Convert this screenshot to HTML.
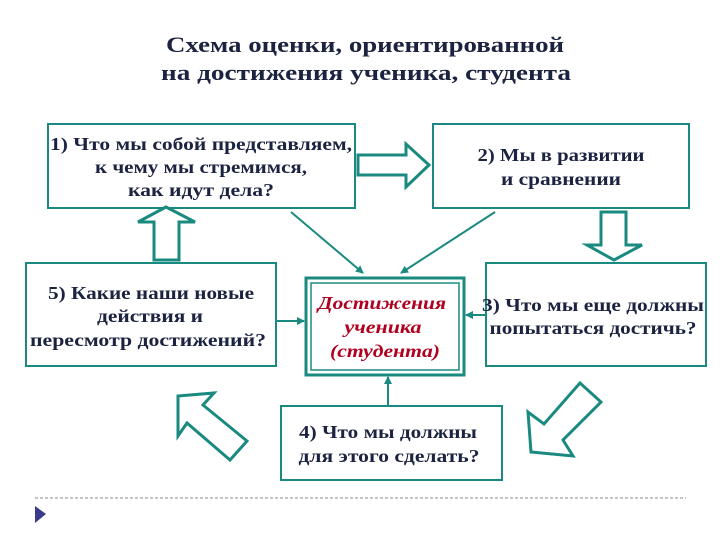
<!DOCTYPE html>
<html><head><meta charset="utf-8"><style>
html,body{margin:0;padding:0;background:#fff;}
svg{display:block;}
text{font-family:"Liberation Serif","DejaVu Serif",serif;fill:#1c2340;}
.t{font-size:22px;font-weight:bold;}
.b{font-size:18px;font-weight:bold;}
.c{font-size:18px;font-style:italic;fill:#b00020;font-weight:bold;}
</style></head><body>
<svg width="720" height="540" viewBox="0 0 720 540" xmlns="http://www.w3.org/2000/svg">
<defs>
<marker id="ah" markerWidth="8" markerHeight="8" refX="7" refY="4" orient="auto" markerUnits="userSpaceOnUse">
<path d="M0,0 L8,4 L0,8 Z" fill="#1a8a80"/></marker>
</defs>
<text class="t" x="365" y="52" text-anchor="middle" textLength="398" lengthAdjust="spacingAndGlyphs">Схема оценки, ориентированной</text>
<text class="t" x="366" y="80" text-anchor="middle" textLength="410" lengthAdjust="spacingAndGlyphs">на достижения  ученика, студента</text>

<g fill="#fff" stroke="#1a8a80" stroke-width="2">
<rect x="48" y="124" width="307" height="84"/>
<rect x="433" y="124" width="256" height="84"/>
<rect x="26" y="263" width="250" height="103"/>
<rect x="486" y="263" width="220" height="103"/>
<rect x="281" y="406" width="221" height="74"/>
<rect x="306" y="278" width="158" height="97" stroke-width="3"/>
<rect x="311" y="283" width="148" height="87" stroke-width="1.5"/>
</g>

<g stroke="#1a8a80" stroke-width="2" fill="none">
<line x1="291" y1="212" x2="363" y2="273" marker-end="url(#ah)"/>
<line x1="495" y1="212" x2="401" y2="273" marker-end="url(#ah)"/>
<line x1="276" y1="321" x2="304" y2="321" marker-end="url(#ah)"/>
<line x1="486" y1="315" x2="466" y2="315" marker-end="url(#ah)"/>
<line x1="388" y1="406" x2="388" y2="377" marker-end="url(#ah)"/>
</g>

<g fill="#fff" stroke="#1a8a80" stroke-width="3" stroke-linejoin="miter">
<polygon points="358,155 406,155 406,144 429,165 406,187 406,175 358,175"/>
<polygon points="154,260 154,222 138,222 166,207 195,222 179,222 179,260"/>
<polygon points="601,212 626,212 626,245 642,245 614,260 587,245 601,245"/>
<polygon points="178,396 214,393 203,405 247,441 230,460 187,423 178,436"/>
<polygon points="580,383 601,402 563,440 573,456 531,452 528,412 544,424"/>
</g>

<text class="b" x="201" y="150" text-anchor="middle" textLength="302" lengthAdjust="spacingAndGlyphs">1) Что мы собой представляем,</text>
<text class="b" x="201" y="173" text-anchor="middle" textLength="212" lengthAdjust="spacingAndGlyphs">к чему мы стремимся,</text>
<text class="b" x="201" y="196" text-anchor="middle" textLength="146" lengthAdjust="spacingAndGlyphs">как идут дела?</text>
<text class="b" x="561" y="161" text-anchor="middle" textLength="167" lengthAdjust="spacingAndGlyphs">2) Мы в развитии</text>
<text class="b" x="561" y="185" text-anchor="middle" textLength="120" lengthAdjust="spacingAndGlyphs">и сравнении</text>
<text class="b" x="151" y="299" text-anchor="middle" textLength="206" lengthAdjust="spacingAndGlyphs">5) Какие наши новые</text>
<text class="b" x="150" y="322" text-anchor="middle" textLength="106" lengthAdjust="spacingAndGlyphs">действия и</text>
<text class="b" x="148" y="346" text-anchor="middle" textLength="236" lengthAdjust="spacingAndGlyphs">пересмотр достижений?</text>
<text class="b" x="593" y="311" text-anchor="middle" textLength="222" lengthAdjust="spacingAndGlyphs">3) Что мы еще должны</text>
<text class="b" x="593" y="334" text-anchor="middle" textLength="207" lengthAdjust="spacingAndGlyphs">попытаться достичь?</text>
<text class="c" x="382" y="309" text-anchor="middle" textLength="128" lengthAdjust="spacingAndGlyphs">Достижения</text>
<text class="c" x="383" y="333" text-anchor="middle" textLength="77" lengthAdjust="spacingAndGlyphs">ученика</text>
<text class="c" x="385" y="357" text-anchor="middle" textLength="110" lengthAdjust="spacingAndGlyphs">(студента)</text>
<text class="b" x="388" y="438" text-anchor="middle" textLength="178" lengthAdjust="spacingAndGlyphs">4) Что мы должны</text>
<text class="b" x="389" y="462" text-anchor="middle" textLength="181" lengthAdjust="spacingAndGlyphs">для этого сделать?</text>

<line x1="35" y1="498" x2="686" y2="498" stroke="#888" stroke-width="1" stroke-dasharray="3,2"/>
<polygon points="35,506 46,514 35,523" fill="#3a3a8c"/>
</svg>
</body></html>
